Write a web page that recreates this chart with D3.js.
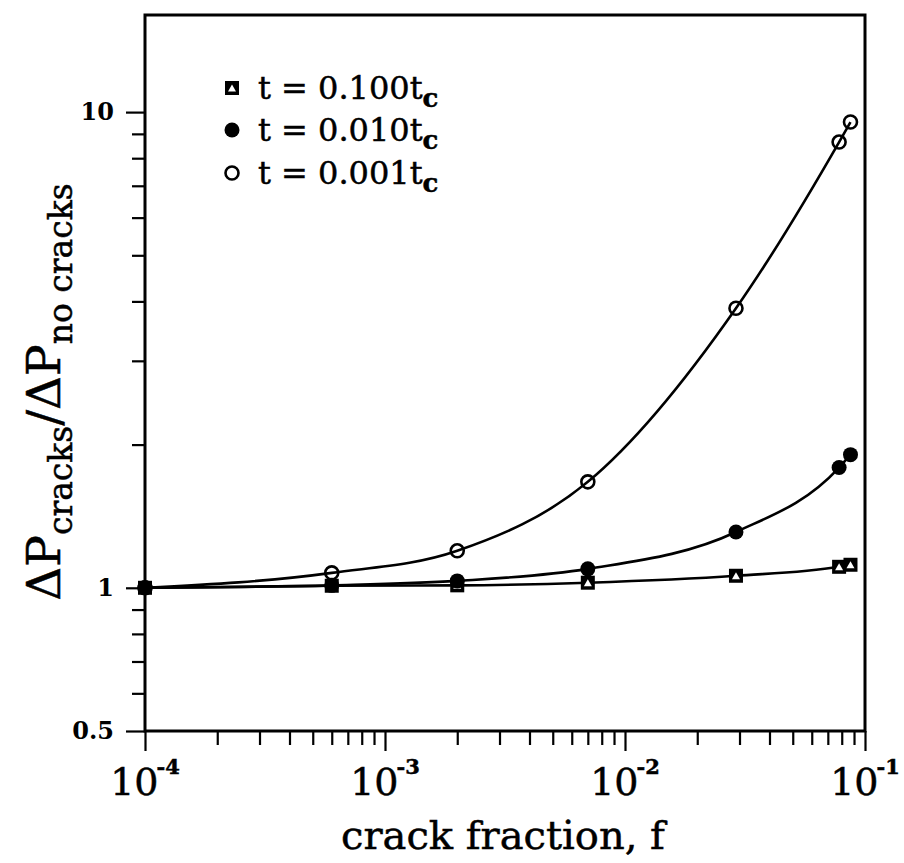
<!DOCTYPE html>
<html>
<head>
<meta charset="utf-8">
<script src="https://cdn.jsdelivr.net/npm/d3@7"></script>
<style>
  html, body { margin: 0; padding: 0; background: #fff; }
  svg { display: block; }
  text { font-family: "DejaVu Serif", "Liberation Serif", serif; fill: #000; }
  .heavy { stroke: #000; stroke-width: 0.5px; }
</style>
</head>
<body>
<svg id="chart" width="904" height="863"></svg>
<script>
// ---- data ----
const crackFraction = [1e-4, 6e-4, 2e-3, 7e-3, 0.029, 0.078, 0.087];
const series100 = [1.0, 1.01, 1.012, 1.025, 1.06, 1.107, 1.118];   // t = 0.100 tc (square)
const series010 = [1.0, 1.012, 1.034, 1.096, 1.31, 1.79, 1.905];   // t = 0.010 tc (filled circle)
const series001 = [1.0, 1.075, 1.196, 1.67, 3.87, 8.65, 9.53];     // t = 0.001 tc (open circle)
const seriesNames = ["0.100", "0.010", "0.001"];
const xMajorTicks = [1e-4, 1e-3, 1e-2, 1e-1];
const xTickExponents = ["-4", "-3", "-2", "-1"];
const yMajorTicks = [0.5, 1, 10];
const yTickLabels = ["0.5", "1", "10"];
const yMinorTicks = [0.6, 0.7, 0.8, 0.9, 2, 3, 4, 5, 6, 7, 8, 9];

// ---- layout ----
const L = 145, R = 865, T = 15, B = 731;
const svg = d3.select("#chart");
const x = d3.scaleLog().domain([1e-4, 1e-1]).range([L, R]);
const y = d3.scaleLog().domain([0.5, 16]).range([B, T]);

// x minor ticks
const xMinor = [];
for (let e = -4; e < -1; e++) for (let m = 2; m <= 9; m++) xMinor.push(m * Math.pow(10, e));

// x axis ticks
const gx = svg.append("g").attr("transform", `translate(0,${B})`);
gx.append("g").call(d3.axisBottom(x).tickValues(xMinor).tickSize(14).tickFormat(""));
gx.append("g").call(d3.axisBottom(x).tickValues(xMajorTicks).tickSize(20).tickFormat(""));
gx.selectAll(".domain").remove();
gx.selectAll("line").attr("stroke", "#000").attr("stroke-width", 2.2);

// x tick labels
const xl = gx.selectAll("text.xlab").data(xMajorTicks).enter().append("text")
  .attr("class", "xlab heavy")
  .attr("x", d => x(d)).attr("y", 64)
  .attr("text-anchor", "middle")
  .style("font-size", "38px");
xl.append("tspan").text("10");
xl.append("tspan").attr("dy", -21).style("font-size", "21px").style("font-weight", "bold")
  .attr("dx", -2)
  .text((d, i) => xTickExponents[i]);

// y axis ticks
const gy = svg.append("g").attr("transform", `translate(${L},0)`);
gy.append("g").call(d3.axisLeft(y).tickValues(yMinorTicks).tickSize(13).tickFormat(""));
gy.append("g").call(d3.axisLeft(y).tickValues(yMajorTicks).tickSize(19).tickFormat(""));
gy.selectAll(".domain").remove();
gy.selectAll("line").attr("stroke", "#000").attr("stroke-width", 2.2);
gy.selectAll("text.ylab").data(yMajorTicks).enter().append("text")
  .attr("class", "ylab")
  .attr("x", -31).attr("y", d => y(d) + 8)
  .attr("text-anchor", "end")
  .style("font-size", "24px").style("font-weight", "bold")
  .text((d, i) => yTickLabels[i]);

// frame
svg.append("rect").attr("x", L).attr("y", T).attr("width", R - L).attr("height", B - T)
  .attr("fill", "none").attr("stroke", "#000").attr("stroke-width", 3);

// axis titles
svg.append("text").attr("class", "heavy").attr("x", 503).attr("y", 849).attr("text-anchor", "middle")
  .style("font-size", "40px").text("crack fraction, f");

const yt = svg.append("text").attr("class", "heavy").attr("transform", "translate(60,392) rotate(-90)")
  .attr("text-anchor", "middle").style("font-size", "47px");
yt.append("tspan").text("\u0394P");
yt.append("tspan").attr("dy", 12).style("font-size", "33px").text("cracks");
yt.append("tspan").attr("dy", -12).text("/\u0394P");
yt.append("tspan").attr("dy", 12).style("font-size", "33px").text("no cracks");

// ---- curves ----
const seriesData = [series100, series010, series001];
const line = d3.line().x(d => x(d[0])).y(d => y(d[1])).curve(d3.curveMonotoneX);
seriesData.forEach(s => {
  svg.append("path").datum(crackFraction.map((f, i) => [f, s[i]]))
    .attr("d", line).attr("fill", "none").attr("stroke", "#000").attr("stroke-width", 2.6);
});

// ---- markers ----
function squareMarker(g) {
  g.append("rect").attr("x", -7).attr("y", -7).attr("width", 14).attr("height", 14)
    .attr("fill", "#000");
  g.append("path").attr("d", "M0,-3.5 L4,3.5 L-4,3.5 Z").attr("fill", "#fff");
}
function filledMarker(g) {
  g.append("circle").attr("r", 7.5).attr("fill", "#000");
}
function openMarker(g) {
  g.append("circle").attr("r", 6.5).attr("fill", "none").attr("stroke", "#000").attr("stroke-width", 2.6);
}
const markerFns = [squareMarker, filledMarker, openMarker];

seriesData.forEach((s, k) => {
  svg.append("g").selectAll("g").data(crackFraction.map((f, i) => [f, s[i]])).enter()
    .append("g").attr("transform", d => `translate(${x(d[0])},${y(d[1])})`)
    .each(function () { markerFns[k](d3.select(this)); });
});

// ---- legend ----
const legendY = [88, 130, 173];
seriesNames.forEach((name, k) => {
  const g = svg.append("g").attr("transform", `translate(232,${legendY[k]})`);
  markerFns[k](g);
  const t = svg.append("text").attr("class", "heavy").attr("x", 258).attr("y", legendY[k] + 11).style("font-size", "32px");
  t.append("tspan").text("t = " + name + "t");
  t.append("tspan").attr("dy", 8).style("font-size", "26px").style("font-weight", "bold").text("c");
});
</script>
</body>
</html>
